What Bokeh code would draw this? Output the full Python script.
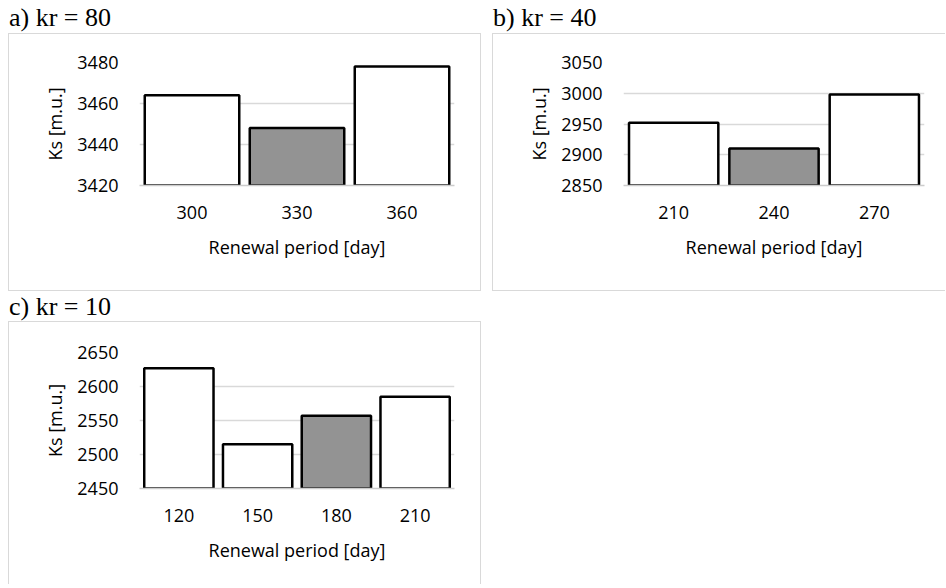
from bokeh.plotting import figure
from bokeh.layouts import column, row
from bokeh.models import FactorRange, Range1d, FixedTicker, Div, Spacer
from bokeh.embed import file_html
from bokeh.resources import INLINE

# data
titles = ["a) kr = 80", "b) kr = 40", "c) kr = 10"]
periods_a = ["300", "330", "360"]
ks_a = [3464, 3448, 3478]
colors_a = ["white", "#939393", "white"]
ticks_a = [3420, 3440, 3460, 3480]

periods_b = ["210", "240", "270"]
ks_b = [2952, 2910, 2998]
colors_b = ["white", "#939393", "white"]
ticks_b = [2850, 2900, 2950, 3000, 3050]

periods_c = ["120", "150", "180", "210"]
ks_c = [2627, 2515, 2557, 2585]
colors_c = ["white", "white", "#939393", "white"]
ticks_c = [2450, 2500, 2550, 2600, 2650]

x_title = "Renewal period [day]"
y_title = "Ks [m.u.]"

SANS = "Open Sans"
SERIF = "Liberation Serif"
BORDER = "1px solid #d9d9d9"


def panel(cats, vals, cols, ticks, width, height, borders, barw, css):
    left, right, top, bottom = borders
    p = figure(x_range=FactorRange(*cats), y_range=Range1d(ticks[0], ticks[-1]),
               width=width, height=height, output_backend="svg", toolbar_location=None,
               min_border_left=left, min_border_right=right,
               min_border_top=top, min_border_bottom=bottom, styles=css)
    p.outline_line_color = None
    p.background_fill_color = "white"
    p.border_fill_color = "white"
    pad = (ticks[-1] - ticks[0]) * 0.1
    p.vbar(x=cats, top=vals, bottom=ticks[0] - pad, width=barw,
           fill_color=cols, line_color="black", line_width=2.5)
    p.xgrid.grid_line_color = None
    p.ygrid.grid_line_color = "#d9d9d9"
    p.ygrid.grid_line_width = 1.5
    p.yaxis.ticker = FixedTicker(ticks=ticks)
    p.yaxis.axis_line_color = None
    p.yaxis.major_tick_line_color = None
    p.yaxis.minor_tick_line_color = None
    p.yaxis.major_tick_out = 0
    p.yaxis.major_tick_in = 0
    p.yaxis.major_label_standoff = 21
    p.yaxis.axis_label = y_title
    p.yaxis.axis_label_standoff = 7
    p.xaxis.axis_line_color = "#cccccc"
    p.xaxis.axis_line_width = 1.5
    p.xaxis.major_tick_line_color = None
    p.xaxis.major_tick_out = 0
    p.xaxis.major_tick_in = 0
    p.xaxis.major_label_standoff = 20
    p.xaxis.axis_label = x_title
    p.xaxis.axis_label_standoff = 13
    for ax in (p.xaxis, p.yaxis):
        ax.major_label_text_font = SANS
        ax.major_label_text_font_size = "18px"
        ax.major_label_text_color = "black"
        ax.axis_label_text_font = SANS
        ax.axis_label_text_font_size = "18px"
        ax.axis_label_text_font_style = "normal"
        ax.axis_label_text_color = "black"
    return p


def title_div(text, width, height, pad_left, pad_top):
    return Div(text=text, width=width, height=height, margin=0,
               styles={"font-family": SERIF, "font-size": "26px", "color": "black",
                       "line-height": "26px", "padding-left": f"{pad_left}px",
                       "padding-top": f"{pad_top}px", "box-sizing": "border-box",
                       "white-space": "nowrap"})


pa = panel(periods_a, ks_a, colors_a, ticks_a, 473, 258, (130, 28, 28, 107), 0.9,
           {"border": BORDER})
pb = panel(periods_b, ks_b, colors_b, ticks_b, 453, 258, (130, 22, 28, 107), 0.89,
           {"border-left": BORDER, "border-top": BORDER, "border-bottom": BORDER})
pc = panel(periods_c, ks_c, colors_c, ticks_c, 473, 263, (130, 28, 30, 97), 0.88,
           {"border-left": BORDER, "border-top": BORDER, "border-right": BORDER})

ta = title_div(titles[0], 475, 33, 1, 5)
tb = title_div(titles[1], 454, 33, 1, 5)
tc = title_div(titles[2], 475, 30, 1, 3)

col_a = column(ta, pa, spacing=0)
col_b = column(tb, pb, spacing=0)
top_row = row(col_a, Spacer(width=9, height=10), col_b, spacing=0)
col_c = column(tc, pc, spacing=0)
layout = row(Spacer(width=8, height=10), column(top_row, col_c, spacing=0), spacing=0)
open("out.html", "w").write(file_html(layout, INLINE))
